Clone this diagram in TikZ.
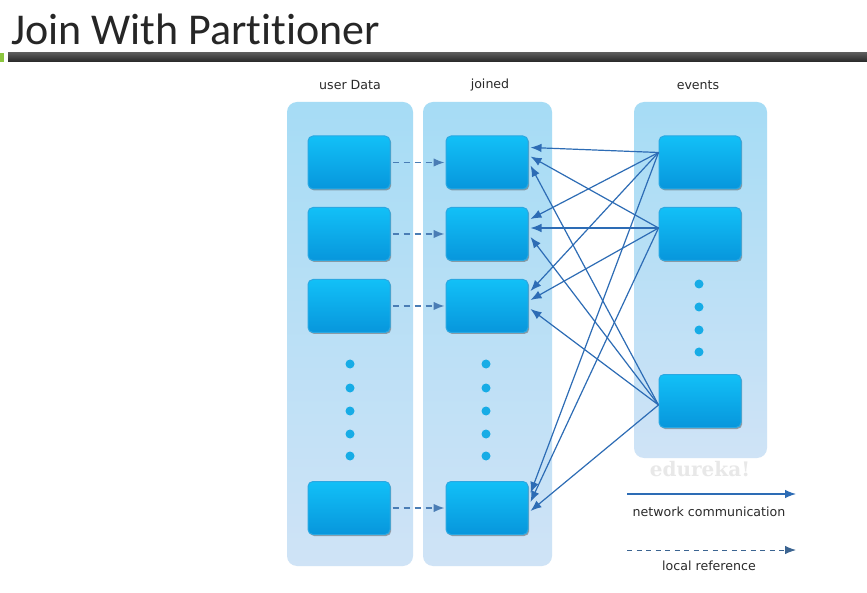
\documentclass[tikz,border=0pt]{standalone}
\usepackage{fontspec}
\newfontfamily\titlefont[Ligatures=NoCommon]{Carlito}
\newfontfamily\lblfont{DejaVu Sans}
\newfontfamily\wmfont{DejaVu Serif}
\usetikzlibrary{arrows.meta,shadows}
\definecolor{panelTop}{HTML}{A6DCF5}
\definecolor{panelBot}{HTML}{CFE3F6}
\definecolor{boxTop}{HTML}{12C0F7}
\definecolor{boxBot}{HTML}{0796DC}
\definecolor{boxEdge}{HTML}{2AA8E2}
\definecolor{netc}{HTML}{2D6CB5}
\definecolor{locc}{HTML}{4A7DB5}
\definecolor{dotc}{HTML}{17ACE6}
\definecolor{lblc}{HTML}{2A2A2A}
\definecolor{accent}{HTML}{8CC63F}
\tikzset{
  panel/.style={rounded corners=10pt, top color=panelTop, bottom color=panelBot, draw=none, inner sep=0pt},
  dbox/.style={rounded corners=5pt, top color=boxTop, bottom color=boxBot, draw=boxEdge, line width=1pt,
    minimum width=82pt, minimum height=53pt, inner sep=0pt,
    drop shadow={shadow xshift=1.2pt, shadow yshift=-1.5pt, opacity=0.5, fill=black!65}},
  dotn/.style={circle, fill=dotc, minimum size=9pt, inner sep=0pt},
  collabel/.style={font=\lblfont\fontsize{12.6}{14}\selectfont, text=lblc},
  netarrow/.style={draw=netc, line width=1.2pt, -{Latex[length=11pt,width=8.5pt]}},
  localref/.style={draw=locc, line width=1.5pt, dash pattern=on 6pt off 5pt, -{Latex[length=11pt,width=8.5pt]}},
  legendref/.style={draw=locc!80!black, line width=1pt, dash pattern=on 5pt off 4.5pt, -{Latex[length=11pt,width=8.5pt]}},
}
\begin{document}
\begin{tikzpicture}[x=1pt,y=-1pt]
\useasboundingbox (0,0) rectangle (867,593);
\fill[white] (0,0) rectangle (867,593);
% title and bar
\node[anchor=base west, inner sep=0pt, font=\titlefont\fontsize{44}{48}\selectfont, text=black!85] (title) at (11,45) {Join With Partitioner};
\shade[top color=black!65, bottom color=black!85] (8,53) rectangle (867,62);
\fill[accent] (0,53) rectangle (4,62);
% panels
\node[panel, minimum width=126pt, minimum height=464pt] (pu) at (350,334) {};
\node[panel, minimum width=129pt, minimum height=464pt] (pj) at (487.5,334) {};
\node[panel, minimum width=133pt, minimum height=356pt] (pe) at (700.5,280) {};
% column labels
\node[collabel] (lu) at (350,85) {user Data};
\node[collabel] (lj) at (490,85) {joined};
\node[collabel] (le) at (698,85) {events};
% boxes
\foreach \i/\y in {1/162.5,2/234,3/306,5/508}{
  \node[dbox] (u\i) at (349,\y) {};
  \node[dbox] (j\i) at (487,\y) {};
}
\foreach \i/\y in {1/162.5,2/234,3/401}{
  \node[dbox] (e\i) at (700,\y) {};
}
% dots
\foreach \k/\y in {1/364,2/388,3/411,4/434,5/456}{
  \node[dotn] (ud\k) at (350,\y) {};
  \node[dotn] (jd\k) at (486,\y) {};
}
\foreach \k/\y in {1/284,2/307,3/330,4/352}{
  \node[dotn] (ed\k) at (699,\y) {};
}
% watermark
\node[font=\wmfont\bfseries\fontsize{20}{22}\selectfont, text=black!9] (wm) at (700,469) {edureka!};
% local references
\foreach \i in {1,2,3,5}{
  \draw[localref, shorten <=2pt, shorten >=1pt] (u\i.east) -- (j\i.west);
}
% network communication
\foreach \i in {1,2,3,5}{
  \draw[netarrow] ([yshift=10pt]e1.west) -- ([xshift=2pt,yshift=15pt]j\i.east);
  \draw[netarrow] ([yshift=6pt]e2.west) -- ([xshift=2pt,yshift=6pt]j\i.east);
  \draw[netarrow] ([yshift=-4pt]e3.west) -- ([xshift=2pt,yshift=-3pt]j\i.east);
}
% legend
\coordinate (n1) at (627,494);
\coordinate (n2) at (796,494);
\draw[netarrow] (n1) -- (n2);
\node[collabel] (nl) at (709,512) {network communication};
\coordinate (l1) at (627,550);
\coordinate (l2) at (796,550);
\draw[legendref] (l1) -- (l2);
\node[collabel] (ll) at (709,566) {local reference};
\end{tikzpicture}
\end{document}
